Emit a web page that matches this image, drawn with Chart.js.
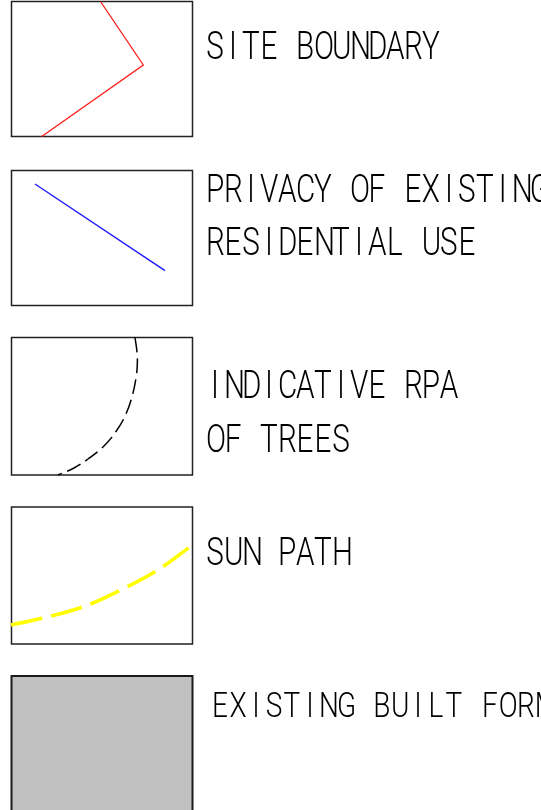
<!DOCTYPE html>
<html><head><meta charset="utf-8">
<script src="https://cdn.jsdelivr.net/npm/chart.js@4.4.1/dist/chart.umd.min.js"></script>
<style>
html,body{margin:0;padding:0;background:#fff;overflow:hidden;}
#wrap{position:relative;width:541px;height:810px;overflow:hidden;background:#fff;}
#c{position:absolute;left:0;top:0;}
.lbl{position:absolute;white-space:pre;font-family:Roboto,"DejaVu Sans",sans-serif;font-weight:300;color:#000;transform-origin:0 0;}
.lbl span.ch{display:inline-block;text-align:center;}
.mk{display:inline-block;width:0;height:0;vertical-align:baseline;}
</style></head><body>
<div id="wrap"><canvas id="c" width="541" height="810"></canvas></div>
<script>
// ---- legend content ----
const labelLines = ["SITE BOUNDARY", "PRIVACY OF EXISTING", "RESIDENTIAL USE", "INDICATIVE RPA", "OF TREES", "SUN PATH", "EXISTING BUILT FORM"];
const labelBaselines = [58.5, 201.7, 255, 398.3, 451.7, 565, 716.7];
const labelLefts = [206, 206, 206, 206, 206, 206, 210.5];
const labelCaps = [27, 27, 27, 27, 27, 27, 25.5];

// ---- symbol boxes ----
const boxX = [11.5, 192.5];
const boxTops = [1.5, 170.5, 337.5, 507, 676];
const boxBottoms = [136.5, 305.5, 475, 644, 815];

// ---- symbol lines ----
const siteBoundary = [{x:100.5,y:1.5},{x:143.3,y:65},{x:41.7,y:136.5}];
const privacyLine = [{x:35,y:184},{x:165,y:270.7}];
const rpaCurve = [{x:135,y:337.5},{x:137,y:352},{x:137.3,y:365},{x:136,y:378},{x:132.5,y:395},{x:126,y:414},{x:117,y:430},{x:104,y:446},{x:88,y:459},{x:74,y:468},{x:58,y:475}];
const sunPath = [{x:11,y:625},{x:41.7,y:618.3},{x:81.7,y:607.3},{x:120.7,y:590},{x:156.7,y:570.7},{x:192.5,y:545}];

function rect(i){
  const x0=boxX[0], x1=boxX[1], y0=boxTops[i], y1=boxBottoms[i];
  return [{x:x0,y:y0},{x:x1,y:y0},{x:x1,y:y1},{x:x0,y:y1},{x:x0,y:y0}];
}
const base = {showLine:true, pointRadius:0, pointHoverRadius:0, fill:false, tension:0, borderCapStyle:'square', borderJoinStyle:'miter'};
const datasets = [
  Object.assign({}, base, {data:siteBoundary, borderColor:'#ff1a1a', borderWidth:1.3, borderCapStyle:'butt', order:0}),
  Object.assign({}, base, {data:privacyLine, borderColor:'#1a1aff', borderWidth:1.4, borderCapStyle:'butt', order:0}),
  Object.assign({}, base, {data:rpaCurve, borderColor:'#000', borderWidth:1.5, borderDash:[15,6], borderCapStyle:'butt', tension:0.4, order:0}),
  Object.assign({}, base, {data:sunPath, borderColor:'#ffff00', borderWidth:3.6, borderDash:[32,9], borderCapStyle:'butt', tension:0.4, order:0})
];
for (let i=0;i<4;i++) datasets.push(Object.assign({}, base, {data:rect(i), borderColor:'#222', borderWidth:1.5, order:2}));
datasets.push(Object.assign({}, base, {data:rect(4), borderColor:'#1a1a1a', borderWidth:2, backgroundColor:'#c0c0c0', fill:'shape', order:3}));

new Chart(document.getElementById('c'), {
  type:'scatter',
  data:{datasets},
  options:{
    responsive:false, animation:false, devicePixelRatio:1,
    layout:{padding:0},
    plugins:{legend:{display:false}, tooltip:{enabled:false}},
    events:[],
    scales:{
      x:{type:'linear', min:0, max:541, display:false},
      y:{type:'linear', min:0, max:810, reverse:true, display:false}
    }
  }
});

// ---- labels as real text (monospaced CAD-like cells) ----
const wrap = document.getElementById('wrap');
const ADV = 18, SX = 0.78;
labelLines.forEach((t,i)=>{
  const d = document.createElement('div');
  d.className = 'lbl';
  const fs = labelCaps[i]/0.711;
  d.style.fontSize = fs+'px';
  d.style.lineHeight = fs+'px';
  for (const c of t){
    const s = document.createElement('span');
    s.className = 'ch';
    s.style.width = (ADV/SX)+'px';
    s.textContent = c;
    d.appendChild(s);
  }
  const m = document.createElement('span'); m.className='mk'; d.appendChild(m);
  d.style.left = labelLefts[i]+'px';
  d.style.top = '0px';
  d.style.transform = 'scaleX('+SX+')';
  wrap.appendChild(d);
  d.style.top = (labelBaselines[i]-m.offsetTop)+'px';
});
</script>
</body></html>
